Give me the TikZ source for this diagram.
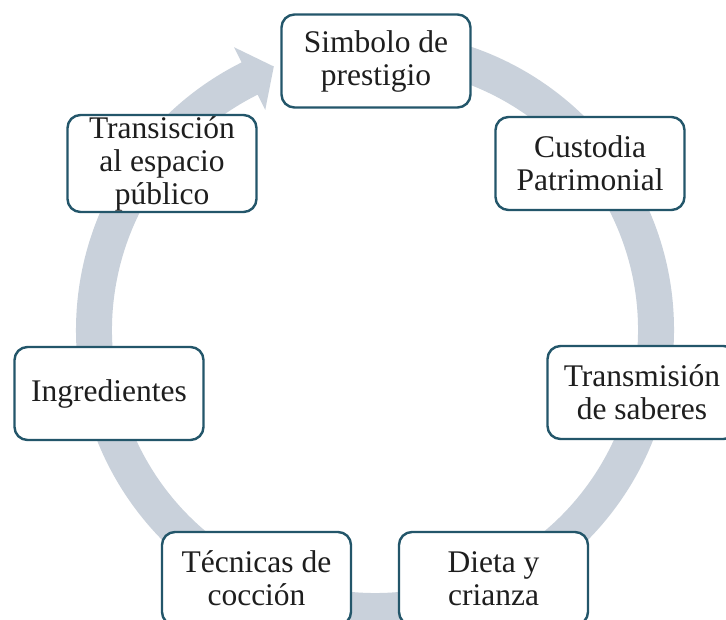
\documentclass[tikz,border=0pt]{standalone}
\usepackage{fontspec}
\setmainfont{Liberation Serif}
\definecolor{ringc}{RGB}{201,209,219}
\definecolor{boxline}{RGB}{35,86,106}
\definecolor{txt}{RGB}{30,30,30}
\begin{document}
\begin{tikzpicture}[x=1pt,y=1pt,
  stagebox/.style={draw=boxline, line width=2.4pt, fill=white, rounded corners=13pt,
    minimum width=189pt, minimum height=93pt, inner sep=0pt, align=center,
    font=\fontsize{31.5}{33}\selectfont, text=txt}]
\clip (0,0) rectangle (726,619);
\fill[white] (0,0) rectangle (726,619);
% ring with arrow head
\begin{scope}[shift={(375,289)}]
  \fill[ringc] (85:299) arc[start angle=85, end angle=-243.5, radius=299]
    -- (116.5:316) -- (-101.2,263.5) -- (116.5:246) -- (116.5:263)
    arc[start angle=-243.5, end angle=85, radius=263] -- cycle;
\end{scope}
% stages
\node[stagebox] (simb) at (376,558) {Simbolo de\\prestigio};
\node[stagebox] (cust) at (590,455.5) {Custodia\\Patrimonial};
\node[stagebox] (trans) at (642,226.5) {Transmisión\\de saberes};
\node[stagebox] (dieta) at (493.5,40.5) {Dieta y\\crianza};
\node[stagebox] (tec) at (256.5,40.5) {Técnicas de\\cocción};
\node[stagebox] (ingr) at (109,225.5) {Ingredientes};
\node[stagebox, minimum height=97pt] (trsp) at (162,455.5) {Transisción\\al espacio\\público};
\end{tikzpicture}
\end{document}
